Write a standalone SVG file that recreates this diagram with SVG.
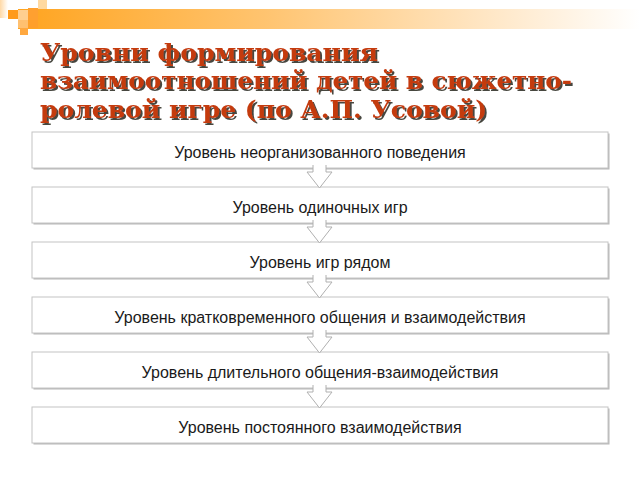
<svg xmlns="http://www.w3.org/2000/svg" width="640" height="480" viewBox="0 0 640 480">
<defs>
<linearGradient id="bar" x1="0" y1="0" x2="1" y2="0">
<stop offset="0" stop-color="#ffa41f"/>
<stop offset="0.4" stop-color="#ffc470"/>
<stop offset="0.75" stop-color="#ffe6c4"/>
<stop offset="1" stop-color="#ffffff"/>
</linearGradient>
<linearGradient id="fade" x1="0" y1="0" x2="1" y2="0">
<stop offset="0" stop-color="#ffd9a6"/>
<stop offset="1" stop-color="#ffffff"/>
</linearGradient>
<filter id="tshadow" x="-5%" y="-20%" width="110%" height="150%">
<feDropShadow dx="2" dy="2" stdDeviation="0.6" flood-color="#1e120c" flood-opacity="0.8"/>
</filter>
</defs>
<style>
.box{fill:#ffffff;stroke:#c4c4c4;stroke-width:1}
.shadow{fill:#b8b8b8}
.lbl{font-family:"Liberation Sans",Arial,sans-serif;font-size:16px;fill:#1a1a1a;text-anchor:middle}
.title{font-family:"DejaVu Serif",serif;font-weight:bold;font-size:25px;fill:#c43a10}
.arrow{fill:#ffffff;stroke:#b0b0b0;stroke-width:1}
</style>
<rect width="640" height="480" fill="#ffffff"/>
<!-- top decoration -->
<g id="decoration">
<rect x="0" y="0" width="8" height="18" fill="url(#fade)"/>
<rect x="18" y="9" width="622" height="20" fill="url(#bar)"/>
<rect x="8" y="10" width="10" height="9" fill="#ff9a1a"/>
<rect x="18" y="10" width="10" height="10" fill="#ffcf90"/>
<rect x="28" y="8" width="10" height="12" fill="#ffa030"/>
<rect x="38" y="0" width="9" height="9" fill="#ffd9a0"/>
<rect x="18" y="20" width="10" height="8" fill="#ffc070"/>
<rect x="28" y="20" width="10" height="8" fill="#ff9f2a"/>
<rect x="20" y="28" width="8" height="7" fill="#ffa840"/>
</g>
<!-- title -->
<g id="title" class="title" filter="url(#tshadow)">
<text x="40" y="61" textLength="338" lengthAdjust="spacingAndGlyphs">Уровни формирования</text>
<text x="40" y="89" textLength="532" lengthAdjust="spacingAndGlyphs">взаимоотношений детей в сюжетно-</text>
<text x="40" y="117.5" textLength="447" lengthAdjust="spacingAndGlyphs">ролевой игре (по А.П. Усовой)</text>
</g>
<!-- nodes -->
<g id="n1"><rect class="shadow" x="33.5" y="133.5" width="576" height="36"/><rect class="box" x="32" y="132" width="576" height="36"/><text class="lbl" x="320" y="157.5">Уровень неорганизованного поведения</text></g>
<g id="n2"><rect class="shadow" x="33.5" y="188.5" width="576" height="36"/><rect class="box" x="32" y="187" width="576" height="36"/><text class="lbl" x="320" y="212.5">Уровень одиночных игр</text></g>
<g id="n3"><rect class="shadow" x="33.5" y="243.5" width="576" height="36"/><rect class="box" x="32" y="242" width="576" height="36"/><text class="lbl" x="320" y="267.5">Уровень игр рядом</text></g>
<g id="n4"><rect class="shadow" x="33.5" y="298.5" width="576" height="36"/><rect class="box" x="32" y="297" width="576" height="36"/><text class="lbl" x="320" y="322.5">Уровень кратковременного общения и взаимодействия</text></g>
<g id="n5"><rect class="shadow" x="33.5" y="353.5" width="576" height="36"/><rect class="box" x="32" y="352" width="576" height="36"/><text class="lbl" x="320" y="377.5">Уровень длительного общения-взаимодействия</text></g>
<g id="n6"><rect class="shadow" x="33.5" y="408.5" width="576" height="36"/><rect class="box" x="32" y="407" width="576" height="36"/><text class="lbl" x="320" y="432.5">Уровень постоянного взаимодействия</text></g>
<!-- connectors -->
<g id="connectors">
<path class="arrow" d="M313,165 L313,172 L307,172 L319.5,188 L332,172 L326,172 L326,165"/>
<path class="arrow" d="M313,220 L313,227 L307,227 L319.5,243 L332,227 L326,227 L326,220"/>
<path class="arrow" d="M313,275 L313,282 L307,282 L319.5,298 L332,282 L326,282 L326,275"/>
<path class="arrow" d="M313,330 L313,337 L307,337 L319.5,353 L332,337 L326,337 L326,330"/>
<path class="arrow" d="M313,385 L313,392 L307,392 L319.5,408 L332,392 L326,392 L326,385"/>
</g>
</svg>
